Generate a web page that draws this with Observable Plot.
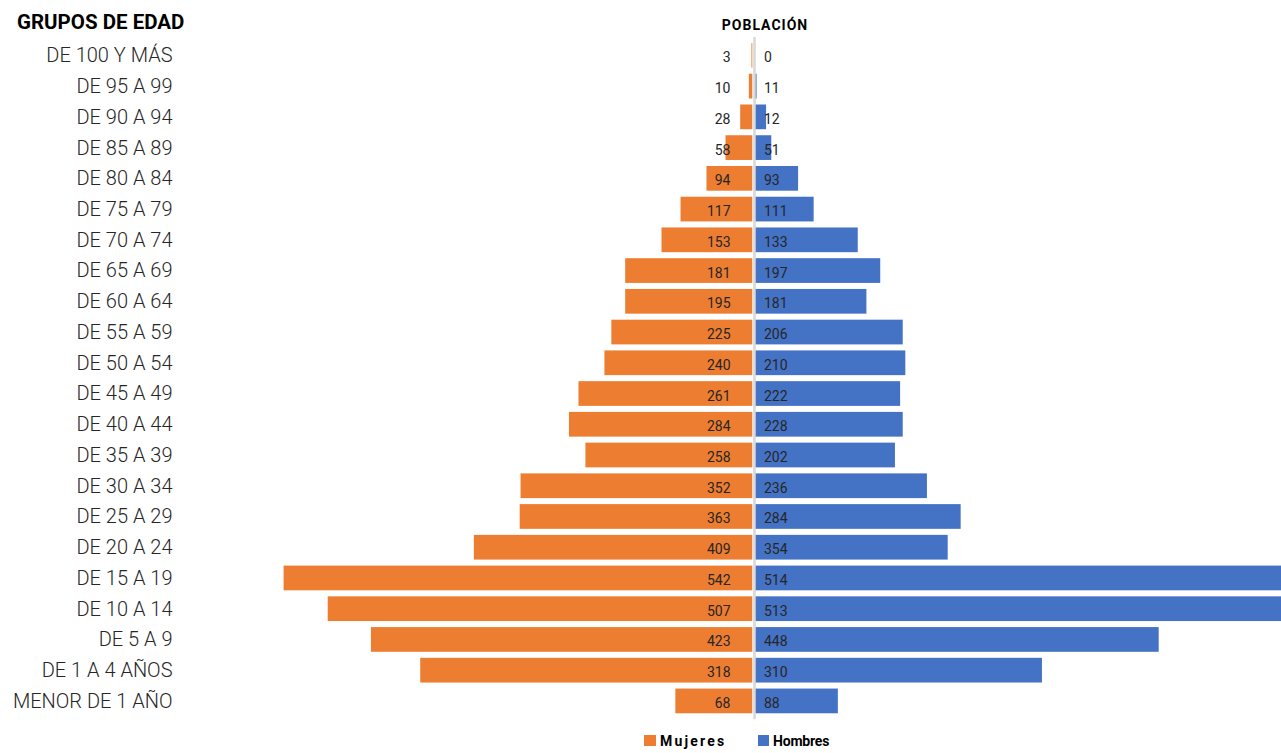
<!DOCTYPE html>
<html><head><meta charset="utf-8">
<script src="https://cdn.jsdelivr.net/npm/d3@7"></script>
<script src="https://cdn.jsdelivr.net/npm/@observablehq/plot@0.6"></script>
<style>
  html, body { margin:0; padding:0; background:#fff; overflow:hidden; }
  body { position:relative; width:1281px; height:753px; font-family:Roboto, sans-serif; color:#262626; }
  #t1 { position:absolute; left:17px; top:11.5px; font-size:20.5px; line-height:20.5px; font-weight:700; color:#000; white-space:nowrap; }
  #t2 { position:absolute; left:665px; width:200px; top:17.5px; font-size:14px; line-height:14px; font-weight:700; letter-spacing:1px; text-align:center; color:#000; }
  #chart { position:absolute; left:0; top:36px; }
  .sw { position:absolute; width:11.5px; height:10.5px; top:735px; }
  .lg { position:absolute; top:734px; font-size:14px; line-height:14px; font-weight:700; color:#000; white-space:nowrap; }
</style>
</head><body>
<div id="t1">GRUPOS DE EDAD</div>
<div id="t2">POBLACIÓN</div>
<div id="chart"></div>
<div class="sw" style="left:644px;background:#ED7D31"></div>
<div class="lg" style="left:660px;letter-spacing:2.2px">Mujeres</div>
<div class="sw" style="left:757.5px;background:#4472C4"></div>
<div class="lg" style="left:773px;letter-spacing:-0.2px">Hombres</div>
<script>
// Grupos de edad (de arriba abajo)
const grupos = ["DE 100 Y MÁS","DE 95 A 99","DE 90 A 94","DE 85 A 89","DE 80 A 84","DE 75 A 79","DE 70 A 74",
  "DE 65 A 69","DE 60 A 64","DE 55 A 59","DE 50 A 54","DE 45 A 49","DE 40 A 44","DE 35 A 39","DE 30 A 34",
  "DE 25 A 29","DE 20 A 24","DE 15 A 19","DE 10 A 14","DE 5 A 9","DE 1 A 4 AÑOS","MENOR DE 1 AÑO"];
// Etiquetas de población mostradas
const mujeres = [3,10,28,58,94,117,153,181,195,225,240,261,284,258,352,363,409,542,507,423,318,68];
const hombres = [0,11,12,51,93,111,133,197,181,206,210,222,228,202,236,284,354,514,513,448,310,88];
// Longitud de las barras
const mujeresBarra = [1,4,14,31,53,83,105,147,147,163,171,201,212,193,268,269,322,542,491,441,384,89];
const hombresBarra = [0,1,12,18,49,67,118,144,128,170,173,167,170,161,198,237,222,640,640,466,331,95];

const data = grupos.map((g, i) => ({grupo: g, mujeres: mujeres[i], hombres: hombres[i], mb: mujeresBarra[i], hb: hombresBarra[i]}));

const chart = Plot.plot({
  width: 1281, height: 690,
  marginLeft: 190, marginRight: 0, marginTop: 1, marginBottom: 6.7,
  x: {domain: [-652.2, 609.4], axis: null},
  y: {domain: grupos, padding: 0.196, round: false, label: null},
  style: {fontFamily: "Roboto, sans-serif", background: "white", overflow: "hidden"},
  marks: [
    Plot.ruleX([0], {stroke: "#d9d9d9", strokeWidth: 2.6}),
    Plot.barX(data, {y: "grupo", x1: d => -d.mb, x2: d => 0, fill: "#ED7D31", dx: -1.7}),
    Plot.barX(data, {y: "grupo", x1: d => 0, x2: "hb", fill: "#4472C4", dx: 1.7, clip: true}),
    Plot.text(data, {y: "grupo", x: d => 0, text: "mujeres", textAnchor: "end", dx: -24, dy: 2, fontSize: 14, fill: "#262626"}),
    Plot.text(data, {y: "grupo", x: d => 0, text: "hombres", textAnchor: "start", dx: 9.5, dy: 2, fontSize: 14, fill: "#262626"}),
    Plot.axisY({tickSize: 0, tickPadding: 18, fontSize: 20, fontWeight: 300, color: "#262626", label: null})
  ]
});
document.getElementById("chart").append(chart);
</script>
</body></html>
